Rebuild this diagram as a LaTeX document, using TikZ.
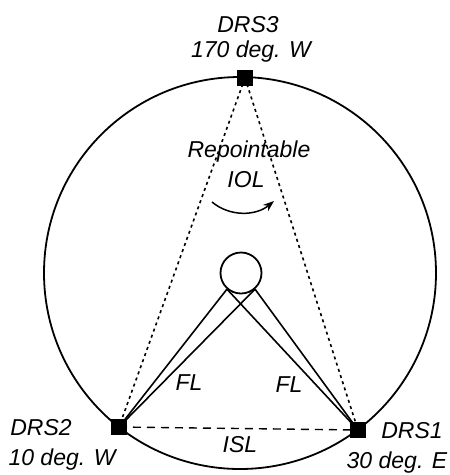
\documentclass[tikz,border=0pt]{standalone}
\usepackage{fontspec}
\setmainfont{Liberation Sans}
\usetikzlibrary{arrows.meta}
\begin{document}
\begin{tikzpicture}[x=1pt,y=-1pt,
  lbl/.style={anchor=base,inner sep=0pt,font=\fontsize{23}{27}\selectfont\itshape},
  station/.style={fill=black,draw=none,minimum size=16pt,inner sep=0pt},
  feeder/.style={line width=1.6pt},
  iol/.style={line width=1.6pt,dash pattern=on 3pt off 3.5pt},
  isl/.style={line width=1.4pt,dash pattern=on 8pt off 6pt},
  orbit/.style={line width=1.8pt}]
\useasboundingbox (0,0) rectangle (450,475);

% orbit and Earth
\draw[orbit] (240,273) circle[radius=196];
\node[circle,draw,line width=1.8pt,minimum size=41pt,inner sep=0pt] (earth) at (241,273) {};

% relay stations on the orbit
\coordinate (s3) at (245,78);
\coordinate (s2) at (119,427);
\coordinate (s1) at (358,430);

% inter-orbit links from DRS3
\draw[iol] (s3) -- (s2);
\draw[iol] (s3) -- (s1);
% inter-satellite link
\draw[isl] (s2) -- (s1);
% feeder links to the ground
\draw[feeder] (s2) -- (earth.229);
\draw[feeder] (s2) -- (earth.311);
\draw[feeder] (s1) -- (earth.229);
\draw[feeder] (s1) -- (earth.311);

\node[station] (drs3) at (s3) {};
\node[station] (drs2) at (s2) {};
\node[station] (drs1) at (s1) {};

% repointing arrow
\coordinate (ra) at (212,202);
\coordinate (rb) at (274,201);
\draw[line width=1.5pt,-{Stealth[length=11pt,width=8pt]}] (ra) .. controls (230,217) and (256,216) .. (rb);

% labels
\node[lbl] (t3a) at (248,32) {DRS3};
\node[lbl] (t3b) at (251,57) {170 deg. W};
\node[lbl] (t2a) at (41,435) {DRS2};
\node[lbl] (t2b) at (62,465) {10 deg. W};
\node[lbl] (t1a) at (412,438) {DRS1};
\node[lbl] (t1b) at (397,468) {30 deg. E};
\node[lbl] (rep) at (249,157) {Repointable};
\node[lbl] (iolt) at (246,187) {IOL};
\node[lbl] (fl2) at (189,390) {FL};
\node[lbl] (fl1) at (289,392) {FL};
\node[lbl] (islt) at (240,452) {ISL};
\end{tikzpicture}
\end{document}
